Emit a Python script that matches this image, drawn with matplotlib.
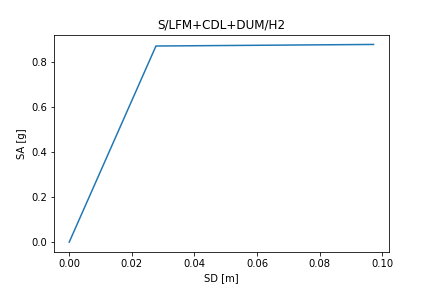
import matplotlib
matplotlib.use('Agg')
import matplotlib.pyplot as plt

# capacity curve points
sd = [0.0, 0.0277, 0.0972]
sa = [0.0, 0.871, 0.878]

fig, ax = plt.subplots(figsize=(6, 4), dpi=72)
fig.subplots_adjust(bottom=0.125)
ax.plot(sd, sa)
ax.set_xlabel('SD [m]')
ax.set_ylabel('SA [g]')
ax.set_title('S/LFM+CDL+DUM/H2')

fig.savefig('out.png', dpi=72)
